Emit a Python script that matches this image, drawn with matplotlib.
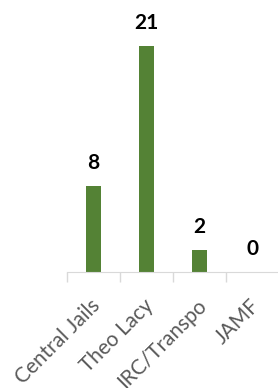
import matplotlib.pyplot as plt
import matplotlib.transforms as mtransforms
import numpy as np

categories = ["Central Jails", "Theo Lacy", "IRC/Transpo", "JAMF"]
values = [8, 21, 2, 0]

W, H = 278, 388
fig = plt.figure(figsize=(W / 100, H / 100), dpi=100)
# axes in pixel coords: x 67..279, baseline at y=272
ax = fig.add_axes([67 / W, (H - 272) / H, 212 / W, 272 / H])

x = np.arange(len(categories))
bars = ax.bar(x, values, width=0.3, color="#548235")
ax.set_xlim(-0.5, 3.5)
ax.set_ylim(0, 272 / 10.78)

for xi, v in zip(x, values):
    ax.annotate(str(v), (xi, v), xytext=(0, 13), textcoords="offset pixels",
                ha="center", va="bottom", fontsize=15, fontweight="bold",
                family="Lato", color="black")

for s in ["top", "right", "left"]:
    ax.spines[s].set_visible(False)
ax.spines["bottom"].set_color("#d9d9d9")
ax.set_yticks([])

ax.set_xticks(x)
ax.set_xticklabels(categories, rotation=45, ha="right", va="center",
                   rotation_mode="anchor", family="Lato", fontsize=15,
                   color="#595959")
ax.tick_params(axis="x", which="major", length=0, pad=22)
shift = mtransforms.ScaledTranslation(4 / 100, 0, fig.dpi_scale_trans)
for lbl in ax.get_xticklabels():
    lbl.set_transform(lbl.get_transform() + shift)
ax.set_xticks(np.arange(-0.5, 4, 1), minor=True)
ax.tick_params(axis="x", which="minor", length=7, color="#d9d9d9", width=1)

fig.savefig("out.png", dpi=100)
